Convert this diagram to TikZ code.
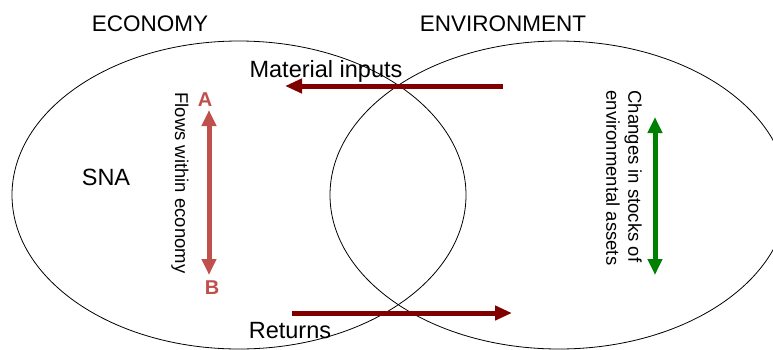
\documentclass[tikz,border=0pt]{standalone}
\usepackage{fontspec}
\setmainfont{Liberation Sans}
\usetikzlibrary{arrows.meta}
\definecolor{darkred}{HTML}{800000}
\definecolor{softred}{HTML}{C0504D}
\definecolor{dgreen}{HTML}{008000}
\tikzset{
  title/.style={font=\fontsize{22.5}{26}\selectfont, inner sep=0pt},
  lbl/.style={font=\fontsize{18.5}{22}\selectfont, inner sep=0pt},
  biglbl/.style={font=\fontsize{23.5}{27}\selectfont, inner sep=0pt},
  letter/.style={font=\bfseries\fontsize{20}{23}\selectfont, text=softred, inner sep=0pt},
  bigarrow/.style={line width=5pt, draw=darkred, -{Triangle[length=17pt,width=14pt]}},
  vert/.style={line width=5pt, {Triangle[length=16pt,width=14pt]}-{Triangle[length=16pt,width=14pt]}},
  region/.style={draw=black, line width=0.8pt}
}
\begin{document}
\begin{tikzpicture}[x=1pt,y=-1pt]
\useasboundingbox (0,0) rectangle (773,349);
\clip (0,0) rectangle (773,349);
\fill[white] (0,0) rectangle (773,349);
% regions
\draw[region] (239,195) ellipse [x radius=227, y radius=154];
\draw[region] (559,195) ellipse [x radius=229, y radius=154];
% titles
\node[title] (eco) at (150,24) {ECONOMY};
\node[title] (env) at (503,24) {ENVIRONMENT};
\node[biglbl] (sna) at (106,177) {SNA};
% material inputs
\node[biglbl] (mat) at (326,71) {Material inputs};
\coordinate (mfrom) at (503,86);
\coordinate (mto) at (285,86);
\draw[bigarrow] (mfrom) -- (mto);
% returns
\node[biglbl] (ret) at (290,331) {Returns};
\coordinate (rfrom) at (292,313);
\coordinate (rto) at (512,313);
\draw[bigarrow] (rfrom) -- (rto);
% flows within economy
\node[letter] (A) at (205,100) {A};
\node[letter] (B) at (212,288) {B};
\coordinate (atop) at (209,110);
\coordinate (abot) at (209,275);
\draw[vert, draw=softred] (atop) -- (abot);
\node[lbl, rotate=-90] (flows) at (180,183) {Flows within economy};
% environmental assets
\coordinate (gtop) at (655,117);
\coordinate (gbot) at (655,275);
\draw[vert, draw=dgreen] (gtop) -- (gbot);
\node[lbl, rotate=-90, align=left] (chg) at (624,178) {Changes in stocks of\\environmental assets};
\end{tikzpicture}
\end{document}
